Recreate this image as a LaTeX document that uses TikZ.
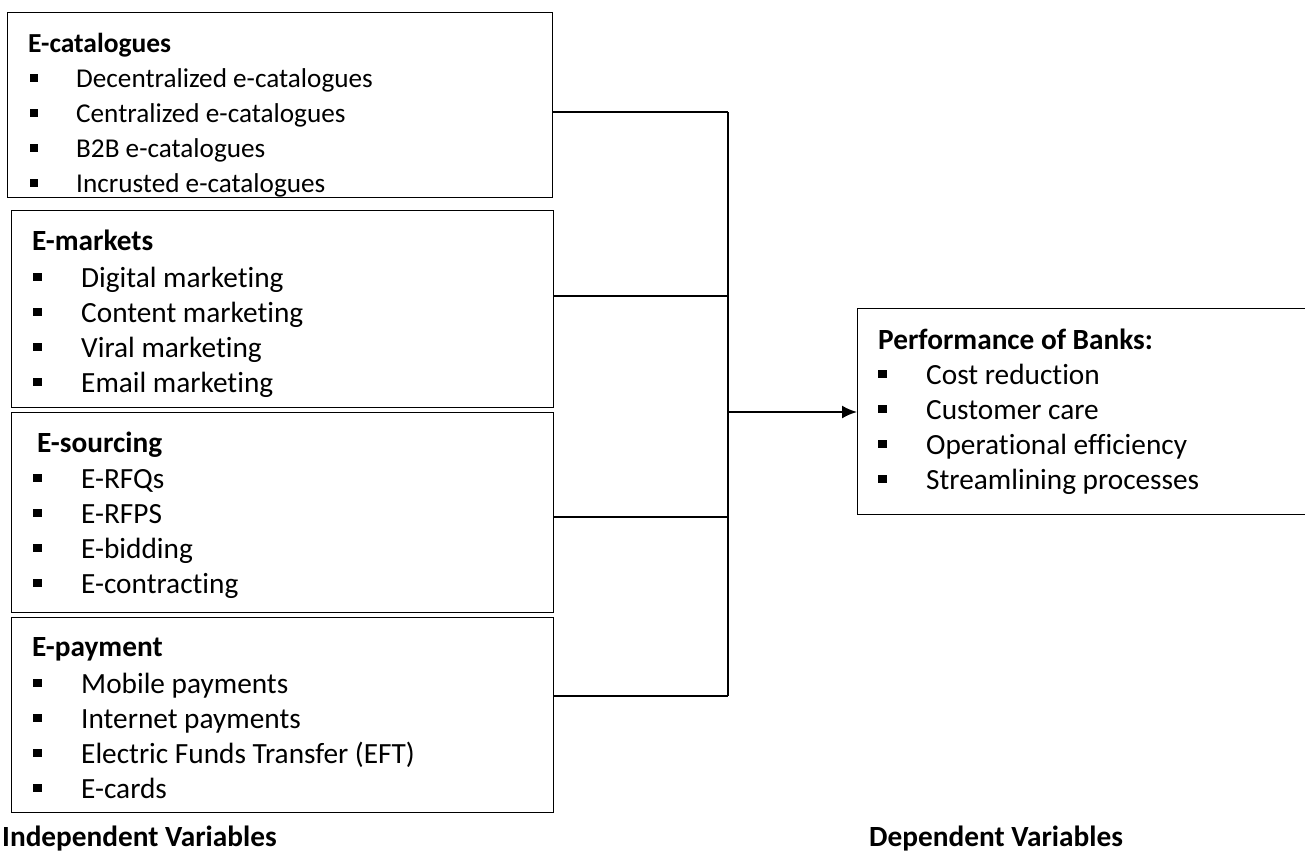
\documentclass[tikz,border=0pt]{standalone}
\usepackage{fontspec}
\setmainfont{Carlito}[Ligatures=NoCommon]
\usetikzlibrary{arrows.meta,calc}
\newcommand\bul{\llap{\raisebox{6pt}{\rule{8.5pt}{8.5pt}}\hspace{39.5pt}}}
\newcommand\bulsm{\llap{\raisebox{5.5pt}{\rule{8pt}{8pt}}\hspace{38.5pt}}}
\begin{document}
\begin{tikzpicture}[x=1pt,y=-1pt,
  boxst/.style={draw=black,line width=1.3pt,anchor=north west,inner sep=0pt},
  txt/.style={anchor=base west,inner sep=0pt,font=\fontsize{29.3}{35}\selectfont},
  ttl/.style={anchor=base west,inner sep=0pt,font=\fontsize{29.3}{35}\selectfont\bfseries},
  txtsm/.style={anchor=base west,inner sep=0pt,font=\fontsize{27.2}{33}\selectfont},
  ttlsm/.style={anchor=base west,inner sep=0pt,font=\fontsize{27.5}{33}\selectfont\bfseries},
  conn/.style={line width=1.3pt},
  arr/.style={line width=2pt,-{Latex[length=15pt,width=13pt]}}]
\useasboundingbox (0,0) rectangle (1305,852);
\clip (0,0) rectangle (1305,852);
% boxes
\node[boxst,minimum width=545pt,minimum height=185pt] (b1) at (7,12) {};
\node[boxst,minimum width=542pt,minimum height=197pt] (b2) at (11,210) {};
\node[boxst,minimum width=542pt,minimum height=200pt] (b3) at (11,412) {};
\node[boxst,minimum width=542pt,minimum height=195pt] (b4) at (11,617) {};
\node[boxst,minimum width=470pt,minimum height=206pt] (rb) at (857,308) {};
% box 1 text (clipped)
\begin{scope}
\clip (b1.south west) rectangle (b1.north east);
\node[ttlsm] (t1) at (28,52) {E-catalogues};
\foreach \s [count=\i] in {Decentralized e-catalogues,Centralized e-catalogues,B2B e-catalogues,Incrusted e-catalogues}
  \node[txtsm] (i1\i) at (76,{87+(\i-1)*35}) {\bulsm\s};
\end{scope}
% box 2
\node[ttl] (t2) at (32,250) {E-markets};
\foreach \s [count=\i] in {Digital marketing,Content marketing,Viral marketing,Email marketing}
  \node[txt] (i2\i) at (81,{287+(\i-1)*35}) {\bul\s};
% box 3
\node[ttl] (t3) at (37,452) {E-sourcing};
\foreach \s [count=\i] in {E-RFQs,E-RFPS,E-bidding,E-contracting}
  \node[txt] (i3\i) at (81,{488+(\i-1)*35}) {\bul\s};
% box 4
\node[ttl] (t4) at (32,656) {E-payment};
\foreach \s [count=\i] in {Mobile payments,Internet payments,Electric Funds Transfer (EFT),E-cards}
  \node[txt] (i4\i) at (81,{693+(\i-1)*35}) {\bul\s};
% right box
\node[ttl] (tr) at (878,349) {Performance of Banks:};
\foreach \s [count=\i] in {Cost reduction,Customer care,Operational efficiency,Streamlining processes}
  \node[txt] (ir\i) at (926,{384+(\i-1)*35}) {\bul\s};
% labels
\node[ttl] (lind) at (2,846) {Independent Variables};
\node[ttl] (ldep) at (869,846) {Dependent Variables};
% connector points
\coordinate (s1) at ([yshift=-100pt]b1.north east);
\coordinate (s2) at ([yshift=-86pt]b2.north east);
\coordinate (s3) at ([yshift=-105pt]b3.north east);
\coordinate (s4) at ([yshift=-79pt]b4.north east);
\coordinate (v1) at (728,112);
\coordinate (J) at (728,412);
\draw[conn] (s1) -- (v1 |- s1);
\draw[conn] (s2) -- (v1 |- s2);
\draw[conn] (s3) -- (v1 |- s3);
\draw[conn] (s4) -- (v1 |- s4);
\draw[conn] (v1 |- s1) -- (v1 |- s4);
\draw[arr] (J) -- (rb.west |- J);
\end{tikzpicture}
\end{document}
